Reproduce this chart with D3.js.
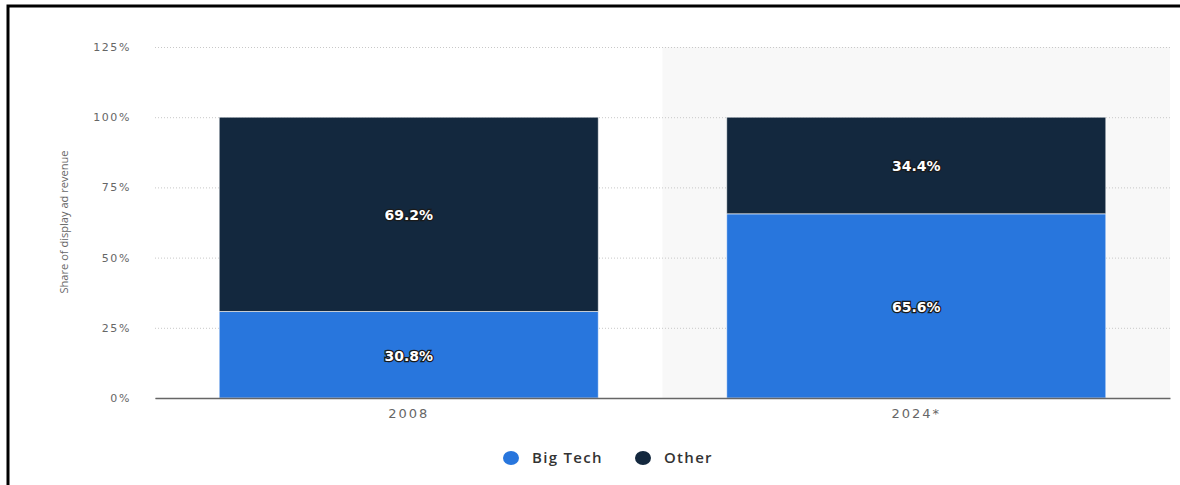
<!DOCTYPE html>
<html>
<head>
<meta charset="utf-8">
<script src="https://cdn.jsdelivr.net/npm/d3@7"></script>
<style>
  html, body { margin: 0; padding: 0; background: #fff; }
  svg { display: block; font-family: "Open Sans", "Noto Sans", sans-serif; }
</style>
</head>
<body>
<svg id="chart" width="1180" height="485"></svg>
<script>
// Chart data
const years = ["2008", "2024*"];
const bigTech = [30.8, 65.6];
const other = [69.2, 34.4];
const yTicks = [0, 25, 50, 75, 100, 125];
const seriesNames = ["Big Tech", "Other"];
const seriesColors = ["#2876dd", "#13283e"];
const forecastYear = "2024*";

const svg = d3.select("#chart");
const W = 1180, H = 485;
const margin = { left: 155, right: 10, top: 47, bottom: 87 };
const plotW = W - margin.left - margin.right;
const y0 = H - margin.bottom;
const wideFont = "'DejaVu Sans', Verdana, sans-serif";

const x = d3.scaleBand()
  .domain(years)
  .range([margin.left, margin.left + plotW])
  .paddingInner(0.253)
  .paddingOuter(0.1265);

const y = d3.scaleLinear().domain([0, 125]).range([y0, margin.top]);

// Shaded background behind the forecast year
const step = x.step();
const bandStart = x(forecastYear) - x.paddingInner() * step / 2;
svg.append("rect")
  .attr("x", bandStart)
  .attr("y", y(125))
  .attr("width", margin.left + plotW - bandStart)
  .attr("height", y(0) - y(125))
  .attr("fill", "#f8f8f8");

// Dotted gridlines
const yAxis = d3.axisLeft(y)
  .tickValues(yTicks)
  .tickFormat(d => d + "%")
  .tickSize(-plotW)
  .tickPadding(24);

const gY = svg.append("g")
  .attr("transform", `translate(${margin.left},0)`)
  .call(yAxis);
gY.select(".domain").remove();
gY.selectAll(".tick line")
  .attr("stroke", "#c8c8c8")
  .attr("stroke-dasharray", "1,2")
  .attr("stroke-width", 1);
gY.selectAll(".tick text")
  .attr("fill", "#666")
  .style("font-size", "11px")
  .style("letter-spacing", "1.6px")
  .style("font-family", wideFont);

// Stacked bars
const rows = years.map((yr, i) => ({ year: yr, "Big Tech": bigTech[i], "Other": other[i] }));
const stack = d3.stack().keys(seriesNames)(rows);

const layers = svg.append("g").selectAll("g")
  .data(stack)
  .join("g")
  .attr("fill", (d, i) => seriesColors[i]);

layers.selectAll("rect")
  .data(d => d)
  .join("rect")
  .attr("x", d => x(d.data.year))
  .attr("width", x.bandwidth())
  .attr("y", d => y(d[1]))
  .attr("height", d => y(d[0]) - y(d[1]))
  .attr("stroke", "#ffffff")
  .attr("stroke-opacity", 0.6)
  .attr("stroke-width", 1);

// Value labels with dark halo
layers.selectAll("text")
  .data(d => d)
  .join("text")
  .attr("x", d => x(d.data.year) + x.bandwidth() / 2)
  .attr("y", d => y((d[0] + d[1]) / 2) + 1)
  .attr("dy", "0.35em")
  .attr("text-anchor", "middle")
  .attr("fill", "#fff")
  .attr("stroke", "#1a1a1a")
  .attr("stroke-width", 2.5)
  .attr("paint-order", "stroke")
  .style("font-size", "14px")
  .style("font-weight", "700")
  .style("font-family", wideFont)
  .text(d => (d[1] - d[0]).toFixed(1) + "%");

// X axis baseline and labels
const xAxis = d3.axisBottom(x).tickSize(0).tickPadding(11);
const gX = svg.append("g")
  .attr("transform", `translate(0,${y0})`)
  .call(xAxis);
gX.select(".domain").attr("stroke", "#666").attr("stroke-width", 1.5);
gX.selectAll(".tick text")
  .attr("fill", "#666")
  .style("font-size", "13px")
  .style("letter-spacing", "2px")
  .style("font-family", wideFont);

// Y axis title
svg.append("text")
  .attr("transform", "translate(68,222) rotate(-90)")
  .attr("text-anchor", "middle")
  .attr("fill", "#666")
  .style("font-size", "11px")
  .style("font-family", "'Open Sans', sans-serif")
  .attr("textLength", 143)
  .attr("lengthAdjust", "spacingAndGlyphs")
  .text("Share of display ad revenue");

// Legend
const legend = svg.append("g").attr("transform", "translate(0,458)");
const legendX = [511, 643];
seriesNames.forEach((name, i) => {
  legend.append("ellipse")
    .attr("cx", legendX[i])
    .attr("cy", 0)
    .attr("rx", 8)
    .attr("ry", 7)
    .attr("fill", seriesColors[i]);
  legend.append("text")
    .attr("x", legendX[i] + 21)
    .attr("y", 0)
    .attr("dy", "0.35em")
    .attr("fill", "#333")
    .style("font-size", "15px")
    .style("font-weight", "600")
    .style("letter-spacing", "1.3px")
    .text(name);
});

// Outer frame
svg.append("path")
  .attr("d", `M8,${H + 5} L8,6 L${W + 5},6`)
  .attr("fill", "none")
  .attr("stroke", "#000")
  .attr("stroke-width", 3);
</script>
</body>
</html>
